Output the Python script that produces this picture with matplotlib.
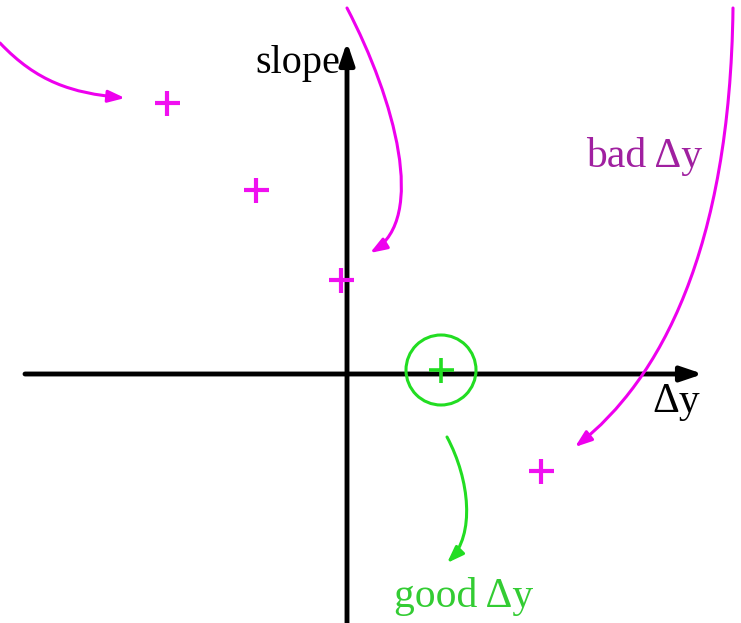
import matplotlib
matplotlib.use("Agg")
import matplotlib.pyplot as plt
from matplotlib.patches import Circle, FancyArrowPatch
from matplotlib.path import Path

# data: coordinates in a frame whose origin is the axis crossing
BAD_X = [-180, -91, -6, 194]
BAD_Y = [271, 184, 94, -97]
GOOD_X = [94]
GOOD_Y = [4]
GOOD_RADIUS = 35

# bezier control points (x, y) of the curved arrows
BAD_CURVES = [
    [(-347, 331), (-310, 292), (-275, 281), (-222, 276)],
    [(0, 366), (48, 274), (80, 156), (23, 121)],
    [(386, 366), (383, 124), (313, -6), (228, -73)],
]
GOOD_CURVE = [(100, -63), (123, -106), (128, -161), (100, -189)]

MAGENTA = "#ee00ee"
PURPLE = "#a020a0"
GREEN = "#22dd22"
GREEN_TEXT = "#33cc33"
SERIF = ["Liberation Serif", "DejaVu Serif"]


def curve_arrow(points, color):
    path = Path(points, [Path.MOVETO, Path.CURVE4, Path.CURVE4, Path.CURVE4])
    return FancyArrowPatch(
        path=path,
        arrowstyle="-|>,head_length=0.5,head_width=0.18",
        mutation_scale=20,
        color=color,
        linewidth=2.2,
    )


fig = plt.figure(figsize=(7.41, 6.23), dpi=100)
ax = fig.add_axes([0, 0, 1, 1])
ax.set_xlim(-347, 394)
ax.set_ylim(-249, 374)
ax.set_aspect("equal")
ax.axis("off")

# axes with arrowheads
ax.add_patch(FancyArrowPatch((-322, 0), (356, 0),
                             arrowstyle="-|>,head_length=0.65,head_width=0.22",
                             mutation_scale=20, color="black", linewidth=3.5,
                             shrinkA=0, shrinkB=0))
ax.add_patch(FancyArrowPatch((0, -260), (0, 332),
                             arrowstyle="-|>,head_length=0.65,head_width=0.22",
                             mutation_scale=20, color="black", linewidth=3.5,
                             shrinkA=0, shrinkB=0))

ax.text(-7, 311, "slope", ha="right", va="center", fontsize=29,
        family=SERIF, color="black")
ax.text(329, -28, "Δy", ha="center", va="center", fontsize=30,
        family=SERIF, color="black")
ax.text(239, 217, "bad Δy", ha="left", va="center", fontsize=30,
        family=SERIF, color=PURPLE)
ax.text(47, -223, "good Δy", ha="left", va="center", fontsize=30,
        family=SERIF, color=GREEN_TEXT)

for pts in BAD_CURVES:
    ax.add_patch(curve_arrow(pts, MAGENTA))
ax.add_patch(curve_arrow(GOOD_CURVE, GREEN))

ax.plot(BAD_X, BAD_Y, linestyle="none", marker="+", markersize=18,
        markeredgewidth=3.0, color="#f010f0")
ax.plot(GOOD_X, GOOD_Y, linestyle="none", marker="+", markersize=18,
        markeredgewidth=2.6, color=GREEN)
ax.add_patch(Circle((GOOD_X[0], GOOD_Y[0]), GOOD_RADIUS, fill=False,
                    edgecolor=GREEN, linewidth=2.2))

fig.savefig("out.png", dpi=100)
